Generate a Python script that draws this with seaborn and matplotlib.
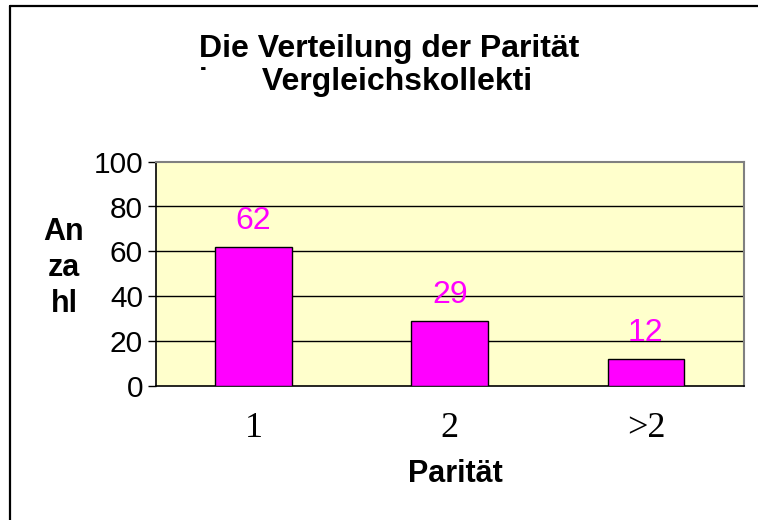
import matplotlib
matplotlib.use("Agg")
import matplotlib.pyplot as plt
from matplotlib.lines import Line2D
import seaborn as sns
import pandas as pd

categories = ["1", "2", ">2"]
values = [62, 29, 12]
yticks = [0, 20, 40, 60, 80, 100]
title_line1 = "Die Verteilung der Parität"
title_line2 = "\u02d9      Vergleichskollekti"
ylabel = "An\nza\nhl"
xlabel = "Parität"

sns.set_theme(style="white")
plt.rcParams['font.family'] = ['Liberation Sans', 'DejaVu Sans']

W, H = 758, 520
fig = plt.figure(figsize=(W / 100, H / 100), dpi=100)
fig.patch.set_facecolor("white")
ax = fig.add_axes([155.5 / W, 1 - 385.7 / H, (744 - 155.5) / W, (385.7 - 161.7) / H])

df = pd.DataFrame({"cat": categories, "val": values})
sns.barplot(data=df, x="cat", y="val", color="#FF00FF", saturation=1, width=0.39,
            edgecolor="black", linewidth=1.0, ax=ax, zorder=3)

ax.set_facecolor("#FFFFCC")
ax.set_ylim(0, 100)
ax.set_xlim(-0.5, 2.5)
ax.set_yticks(yticks)
ax.set_yticklabels([str(t) for t in yticks], fontsize=21.5, color="black")
for t in yticks[1:-1]:
    ax.axhline(t, color="black", lw=1.0, zorder=1)

ax.set_xticks(range(len(categories)))
ax.set_xticklabels(categories, fontsize=26, family=['Liberation Serif', 'DejaVu Serif'], color="black")
ax.set_xticks([-0.5, 0.5, 1.5, 2.5], minor=True)
ax.tick_params(axis="x", which="major", length=0, pad=19)
ax.tick_params(axis="x", which="minor", length=8, width=1, color="black", direction="out")
ax.tick_params(axis="y", which="major", length=6, width=1, color="black", direction="out", pad=3, left=True)
ax.set_xlabel("")
ax.set_ylabel("")

for side in ["left", "bottom"]:
    ax.spines[side].set_color("black")
    ax.spines[side].set_linewidth(1.2)
for side in ["top", "right"]:
    ax.spines[side].set_visible(True)
    ax.spines[side].set_color("#808080")
    ax.spines[side].set_linewidth(1.5)

for i, v in enumerate(values):
    ax.annotate(str(v), xy=(i, v), xytext=(0, 13), textcoords="offset points",
                ha="center", va="baseline", fontsize=23, color="#FF00FF", zorder=4)

bold = dict(fontweight="bold", color="black")
fig.text(389 / W, 1 - 57 / H, title_line1, ha="center", va="baseline", fontsize=23, **bold)
fig.text(198 / W, 1 - 90 / H, title_line2, ha="left", va="baseline", fontsize=23, **bold)
fig.text(64 / W, 1 - 268 / H, ylabel, ha="center", va="center", linespacing=1.25, fontsize=22, **bold)
fig.text(455 / W, 1 - 482 / H, xlabel, ha="center", va="baseline", fontsize=22, **bold)

fig.add_artist(Line2D([10 / W, 10 / W], [0, 1 - 6 / H], color="black", lw=1.6))
fig.add_artist(Line2D([10 / W, 1], [1 - 6 / H, 1 - 6 / H], color="black", lw=1.6))

fig.savefig("out.png", dpi=100, facecolor="white")
